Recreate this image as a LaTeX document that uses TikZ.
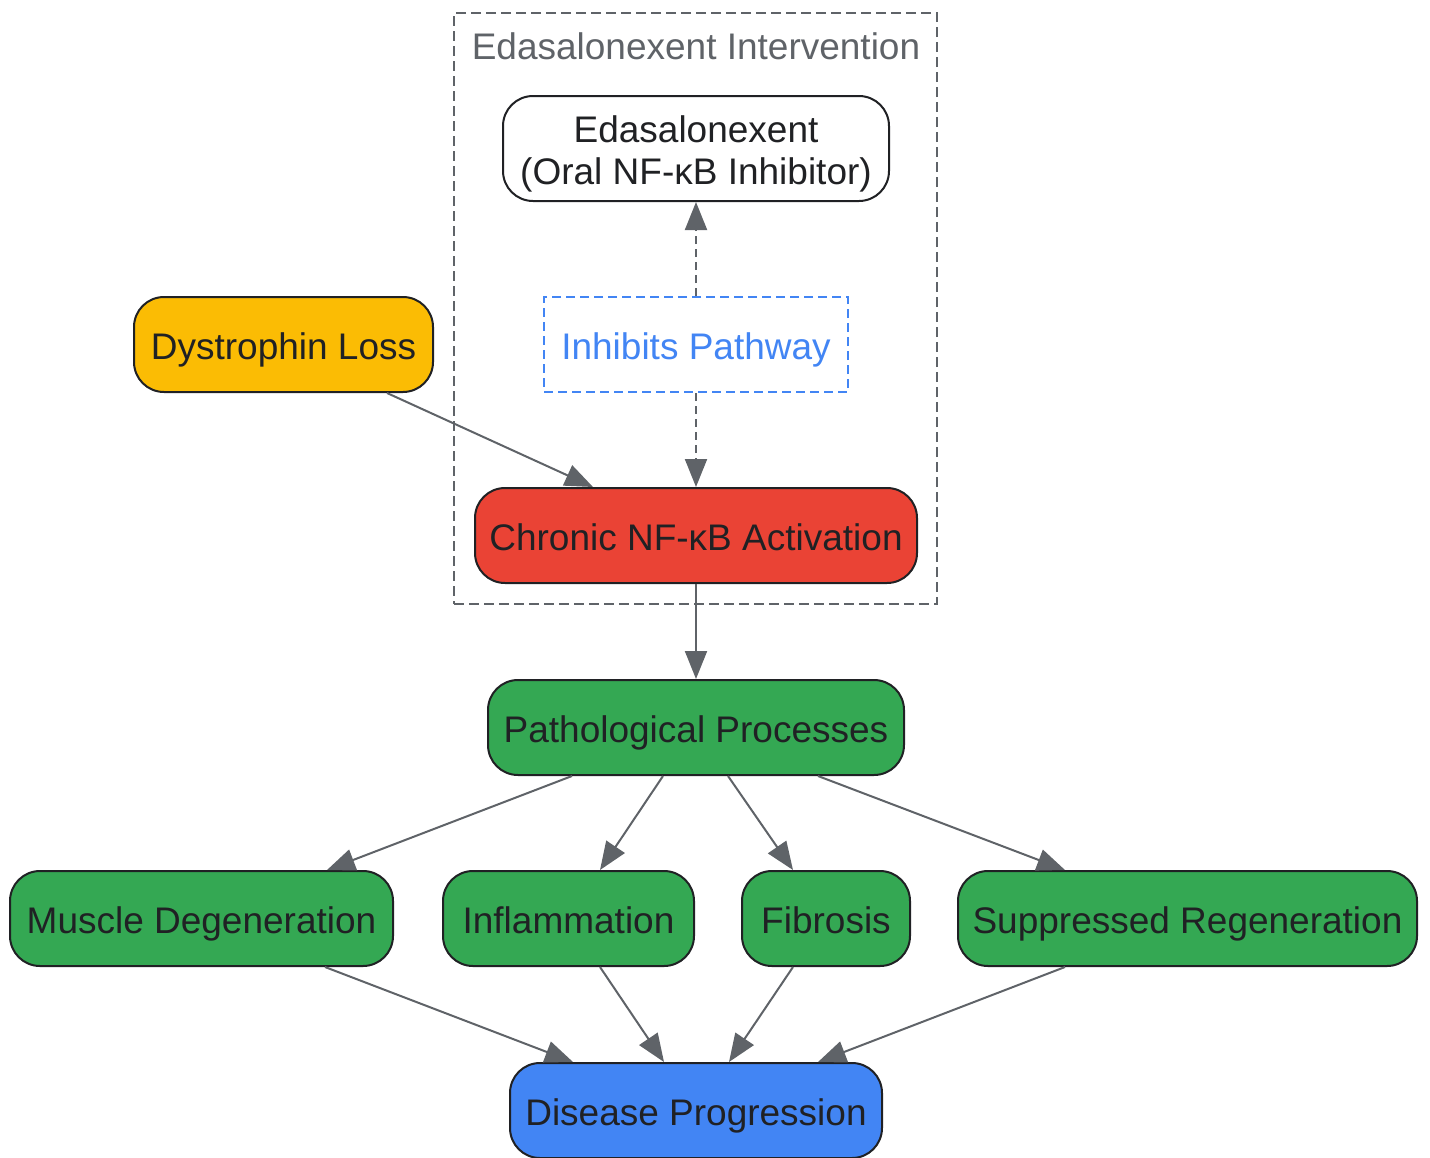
\documentclass[tikz,border=0pt]{standalone}
\usepackage{fontspec}
\setmainfont{Liberation Sans}
\usetikzlibrary{arrows.meta,calc,positioning}

\definecolor{inkdark}{HTML}{202124}
\definecolor{edgegray}{HTML}{5F6368}
\definecolor{gyellow}{HTML}{FBBC04}
\definecolor{gred}{HTML}{EA4335}
\definecolor{ggreen}{HTML}{34A853}
\definecolor{gblue}{HTML}{4285F4}

\begin{document}
\begin{tikzpicture}[x=0.5pt, y=-0.5pt,
    box/.style={draw=inkdark, line width=1pt, rounded corners=15pt, minimum height=47.5pt, inner sep=0pt, text=inkdark, font=\fontsize{18.5}{21}\selectfont, text height=18pt, text depth=3pt},
    hint/.style={draw=gblue, line width=1pt, dash pattern=on 4.5pt off 2.5pt, minimum height=47.5pt, inner sep=0pt, text=gblue, font=\fontsize{18.5}{21}\selectfont, text height=18pt, text depth=3pt},
    group/.style={draw=edgegray, line width=1pt, dash pattern=on 5pt off 2.5pt, inner sep=0pt},
    flow/.style={draw=edgegray, line width=1pt, -{Triangle[length=14pt, width=11pt]}},
    hintflow/.style={flow, dash pattern=on 4pt off 2.5pt}]

    \useasboundingbox (0,0) rectangle (1430,1157);

    % intervention group
    \node[group, minimum width=241.5pt, minimum height=295.5pt] (grp) at (695.5,308.5) {};
    \node[text=edgegray, font=\fontsize{18.5}{21}\selectfont] (grplbl) at (696,46) {Edasalonexent Intervention};

    \node[box, fill=white, minimum width=193pt, minimum height=52.5pt, align=center, text height=39.5pt, text depth=3.9pt] (edas) at (696,148.5) {Edasalonexent\\(Oral NF-\symbol{"03BA}B Inhibitor)};
    \node[hint, minimum width=152pt]             (inh)  at (696,344.5)  {Inhibits Pathway};
    \node[box, fill=gyellow, minimum width=149.5pt] (dys)  at (283.5,344.5) {Dystrophin Loss};
    \node[box, fill=gred, minimum width=221pt]    (chr)  at (696,535.5)  {Chronic NF-\symbol{"03BA}B Activation};

    % downstream
    \node[box, fill=ggreen, minimum width=208pt]   (path) at (696,727.5)   {Pathological Processes};
    \node[box, fill=ggreen, minimum width=191.5pt] (mus)  at (201.5,918.5) {Muscle Degeneration};
    \node[box, fill=ggreen, minimum width=125.5pt] (infl) at (568.5,918.5) {Inflammation};
    \node[box, fill=ggreen, minimum width=84pt]    (fib)  at (826,918.5)   {Fibrosis};
    \node[box, fill=ggreen, minimum width=229.5pt] (supp) at (1187.5,918.5) {Suppressed Regeneration};
    \node[box, fill=gblue, minimum width=186pt]    (dis)  at (696,1110.5)  {Disease Progression};

    \draw[hintflow] (inh.north) -- (edas.south);
    \draw[hintflow] (inh.south) -- (chr.north);
    \draw[flow] ($(dys.south)+(103.5,0)$) -- ($(chr.north)+(-103,0)$);
    \draw[flow] (chr.south) -- (path.north);

    \draw[flow] ($(path.south)+(-124,0)$) -- ($(mus.north)+(125.5,0)$);
    \draw[flow] ($(path.south)+(-33,0)$)  -- ($(infl.north)+(31.5,0)$);
    \draw[flow] ($(path.south)+(32,0)$)   -- ($(fib.north)+(-33,0)$);
    \draw[flow] ($(path.south)+(122,0)$)  -- ($(supp.north)+(-122.5,0)$);

    \draw[flow] ($(mus.south)+(123.5,0)$)   -- ($(dis.north)+(-123,0)$);
    \draw[flow] ($(infl.south)+(31.5,0)$)   -- ($(dis.north)+(-32,0)$);
    \draw[flow] ($(fib.south)+(-33,0)$)     -- ($(dis.north)+(33,0)$);
    \draw[flow] ($(supp.south)+(-122.5,0)$) -- ($(dis.north)+(122,0)$);

\end{tikzpicture}
\end{document}
